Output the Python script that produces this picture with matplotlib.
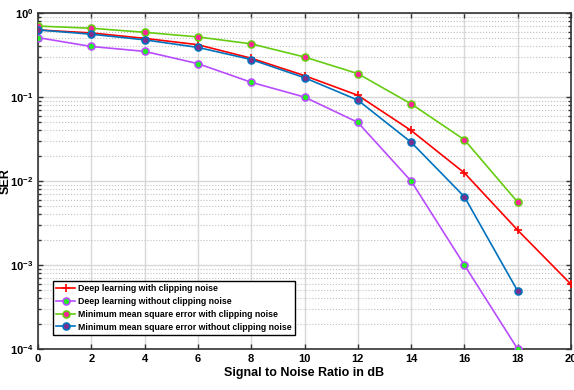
import numpy as np
import matplotlib.pyplot as plt
from matplotlib.ticker import LogLocator, NullFormatter

plt.rcParams['font.family'] = ['Liberation Sans', 'DejaVu Sans']
plt.rcParams['font.weight'] = 'bold'

snr = [0, 2, 4, 6, 8, 10, 12, 14, 16, 18, 20]
dl_clip = [0.63, 0.58, 0.50, 0.42, 0.29, 0.18, 0.105, 0.04, 0.0125, 0.0026, 0.00059]
snr_short = [0, 2, 4, 6, 8, 10, 12, 14, 16, 18]
dl_noclip = [0.51, 0.40, 0.35, 0.25, 0.15, 0.10, 0.05, 0.01, 0.001, 0.0001]
mmse_clip = [0.70, 0.66, 0.59, 0.52, 0.43, 0.30, 0.19, 0.083, 0.031, 0.0056]
mmse_noclip = [0.63, 0.56, 0.48, 0.39, 0.28, 0.17, 0.092, 0.029, 0.0065, 0.00049]

labels = ['Deep learning with clipping noise',
          'Deep learning without clipping noise',
          'Minimum mean square error with clipping noise',
          'Minimum mean square error without clipping noise']

fig = plt.figure(figsize=(5.74, 3.9), dpi=100)
ax = fig.add_axes([0.0662, 0.105, 0.9286, 0.8615])

ax.semilogy(snr, dl_clip, color='red', lw=1.2, marker='+', ms=6, mew=1.2,
            label=labels[0], zorder=3)
ax.semilogy(snr_short, dl_noclip, color='#B84CFF', lw=1.2, marker='o', ms=5,
            mfc='#22EE22', mec='#B84CFF', mew=1.2, label=labels[1], zorder=3)
ax.semilogy(snr_short, mmse_clip, color='#66CC11', lw=1.2, marker='o', ms=5,
            mfc='#FF2299', mec='#66CC11', mew=1.2, label=labels[2], zorder=3)
ax.semilogy(snr_short, mmse_noclip, color='#0072BD', lw=1.2, marker='o', ms=5,
            mfc='#7E2F8E', mec='#0072BD', mew=1.2, label=labels[3], zorder=3)

ax.set_xlim(0, 20)
ax.set_ylim(1e-4, 1)
ax.set_xticks(range(0, 21, 2))
ax.yaxis.set_major_locator(LogLocator(base=10, numticks=10))
ax.yaxis.set_minor_locator(LogLocator(base=10, subs=np.arange(2, 10), numticks=20))
ax.yaxis.set_minor_formatter(NullFormatter())
ax.grid(True, which='major', color='#d8d8d8', lw=1.0, ls='-')
ax.grid(True, which='minor', axis='y', color='#c0c0c0', lw=0.8, ls=':')
ax.tick_params(which='both', direction='in', labelsize=8, top=True, right=True,
               width=1.0, color='#333333')
for s in ax.spines.values():
    s.set_linewidth(1.2)
    s.set_color('#333333')

ax.set_xlabel('Signal to Noise Ratio in dB', fontsize=9, fontweight='bold', labelpad=2)
ax.set_ylabel('SER', fontsize=9, fontweight='bold')
ax.yaxis.set_label_coords(-0.05, 0.5)

leg = ax.legend(loc='lower left', bbox_to_anchor=(0.02, 0.03),
                prop={'weight': 'bold', 'size': 6.3}, fancybox=False,
                framealpha=1, edgecolor='black', handlelength=2.2,
                borderpad=0.35, labelspacing=0.45, handletextpad=0.3)
leg.get_frame().set_linewidth(1.0)

fig.savefig('out.png', dpi=100)
